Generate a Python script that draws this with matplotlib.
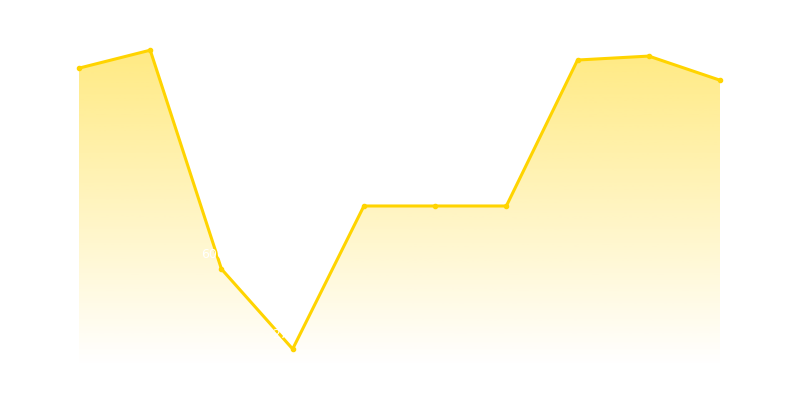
import numpy as np
import matplotlib.pyplot as plt
from matplotlib.colors import to_rgb

categories = list(range(10))
values = [1416, 1489, 600, 275, 856, 856, 856, 1449, 1465, 1367]
labels = [str(v) for v in values]

ymin, ymax = 210, 1571
line_color = '#FFD400'

fig = plt.figure(figsize=(8, 4), dpi=100)
ax = fig.add_axes([79/800, 35/400, (720-79)/800, 335/400])
ax.set_xlim(0, 9)
ax.set_ylim(ymin, ymax)
ax.axis('off')

# gradient fill clipped to area under line
r, g, b = to_rgb('#FFE14D')
grad = np.zeros((256, 1, 4))
grad[..., 0], grad[..., 1], grad[..., 2] = r, g, b
grad[:, 0, 3] = np.linspace(0, 0.7, 256)
top = max(values)
im = ax.imshow(grad, extent=[0, 9, ymin, top], origin='lower', aspect='auto', zorder=1)
poly = ax.fill_between(categories, values, ymin, color='none')
im.set_clip_path(poly.get_paths()[0], transform=ax.transData)

ax.plot(categories, values, color=line_color, lw=2.2, marker='o', ms=3, zorder=3, clip_on=False)
for x, v, t in zip(categories, values, labels):
    ax.annotate(t, (x, v), xytext=(-6, 8), textcoords='offset points', ha='center',
                color='white', fontsize=9, zorder=4)

fig.savefig('out.png')
